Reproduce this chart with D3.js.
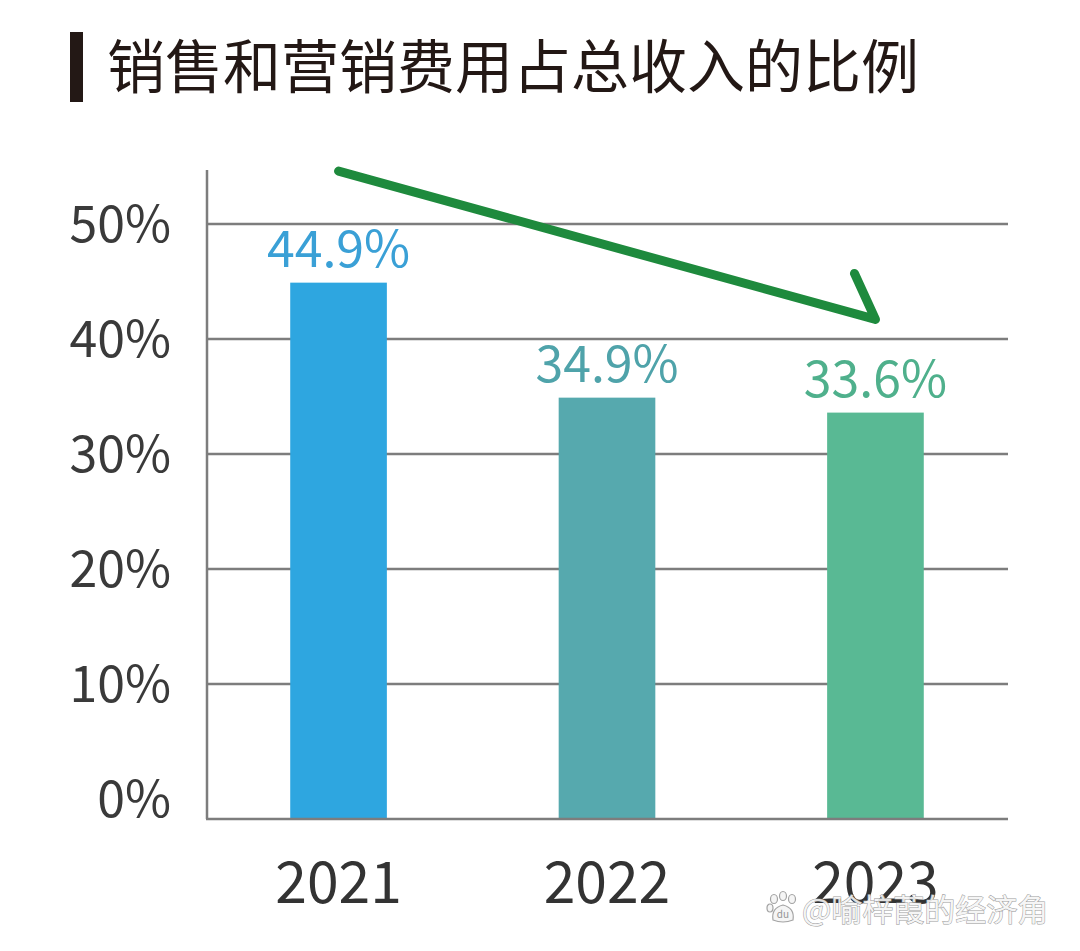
<!DOCTYPE html>
<html>
<head>
<meta charset="utf-8">
<script src="https://cdn.jsdelivr.net/npm/d3@7"></script>
<style>
html,body{margin:0;padding:0;background:#fff;}
svg{display:block;}
</style>
</head>
<body>
<div id="chart"></div>
<script>
// ---- data ----
const title = "销售和营销费用占总收入的比例";
const years = ["2021", "2022", "2023"];
const shares = [44.9, 34.9, 33.6];
const valueLabels = ["44.9%", "34.9%", "33.6%"];
const yTicks = [0, 10, 20, 30, 40, 50];
const yTickLabels = ["0%", "10%", "20%", "30%", "40%", "50%"];
const barColors = ["#2ea6e0", "#56a9ae", "#59b994"];
const labelColors = ["#3aa0d6", "#4fa3aa", "#4fb08c"];
const trendYears = ["2021", "2023"];
const trendValues = [54.6, 41.7];
const watermark = "@喻梓葭的经济角";

// ---- layout ----
const W = 1080, H = 951;
const FONT = "'Noto Sans CJK SC','Noto Sans',sans-serif";
const svg = d3.select("#chart").append("svg").attr("width", W).attr("height", H);

const x = d3.scaleBand().domain(years).range([207, 1007]).paddingInner(0.64).paddingOuter(0.31);
const y = d3.scaleLinear().domain([0, 50]).range([799, 224]);
const baseY = y(0) + 20;
const gridColor = "#7d7d7d";

// title
svg.append("rect").attr("x", 70).attr("y", 32).attr("width", 13).attr("height", 70).attr("fill", "#231815");
svg.append("text").attr("x", 107).attr("y", 88).attr("font-family", FONT).attr("font-size", 58)
  .attr("fill", "#231815").text(title);

// gridlines
svg.append("g").selectAll("line").data(yTicks.filter(d => d > 0)).join("line")
  .attr("x1", 207).attr("x2", 1008).attr("y1", d => y(d)).attr("y2", d => y(d))
  .attr("stroke", gridColor).attr("stroke-width", 2.5);

// bars
svg.append("g").selectAll("rect").data(years).join("rect")
  .attr("x", d => x(d)).attr("width", x.bandwidth())
  .attr("y", (d, i) => y(shares[i])).attr("height", (d, i) => baseY - y(shares[i]))
  .attr("fill", (d, i) => barColors[i]);

// axes lines
svg.append("line").attr("x1", 207).attr("x2", 207).attr("y1", 170).attr("y2", baseY)
  .attr("stroke", gridColor).attr("stroke-width", 2.5);
svg.append("line").attr("x1", 206).attr("x2", 1008).attr("y1", baseY).attr("y2", baseY)
  .attr("stroke", gridColor).attr("stroke-width", 2.5);

// y tick labels
svg.append("g").selectAll("text").data(yTicks).join("text")
  .attr("x", 171).attr("y", d => y(d) + 18).attr("text-anchor", "end")
  .attr("font-family", FONT).attr("font-size", 50).attr("fill", "#3a3a3a")
  .text((d, i) => yTickLabels[i]);

// value labels
svg.append("g").selectAll("text").data(years).join("text")
  .attr("x", d => x(d) + x.bandwidth() / 2).attr("y", (d, i) => y(shares[i]) - 16)
  .attr("text-anchor", "middle").attr("font-family", FONT).attr("font-size", 50)
  .attr("fill", (d, i) => labelColors[i]).text((d, i) => valueLabels[i]);

// x labels
svg.append("g").selectAll("text").data(years).join("text")
  .attr("x", d => x(d) + x.bandwidth() / 2).attr("y", 903)
  .attr("text-anchor", "middle").attr("font-family", FONT).attr("font-size", 57)
  .attr("fill", "#333333").text(d => d);

// trend arrow
const p0 = [x(trendYears[0]) + x.bandwidth() / 2, y(trendValues[0])];
const p1 = [x(trendYears[1]) + x.bandwidth() / 2, y(trendValues[1])];
const barb = [p1[0] - 21, p1[1] - 46];
svg.append("path").attr("d", d3.line()([p0, p1, barb]))
  .attr("fill", "none").attr("stroke", "#1e8a3d").attr("stroke-width", 9)
  .attr("stroke-linecap", "round").attr("stroke-linejoin", "round");

// watermark
const wm = svg.append("g").attr("opacity", 0.9);
const paw = wm.append("g").attr("transform", "translate(783,910)")
  .attr("fill", "#f4f4f4").attr("stroke", "#9a9a9a").attr("stroke-width", 1.2);
paw.append("ellipse").attr("cx", -9).attr("cy", -11).attr("rx", 3.5).attr("ry", 4.5);
paw.append("ellipse").attr("cx", 0).attr("cy", -14).attr("rx", 3.5).attr("ry", 4.5);
paw.append("ellipse").attr("cx", 9).attr("cy", -11).attr("rx", 3.5).attr("ry", 4.5);
paw.append("ellipse").attr("cx", -13).attr("cy", -2).attr("rx", 3).attr("ry", 4);
paw.append("path").attr("d", "M-10,10 Q-12,-2 0,-5 Q12,-2 10,10 Q0,14 -10,10 Z");
paw.append("text").attr("x", 0).attr("y", 8).attr("text-anchor", "middle")
  .attr("font-family", FONT).attr("font-size", 10).attr("stroke", "none").attr("fill", "#8a8a8a").text("du");
wm.append("text").attr("x", 802).attr("y", 921).attr("font-family", FONT).attr("font-size", 31)
  .attr("fill", "#f4f4f4").attr("stroke", "#8f8f8f").attr("stroke-width", 1)
  .attr("paint-order", "stroke").text(watermark);
</script>
</body>
</html>
